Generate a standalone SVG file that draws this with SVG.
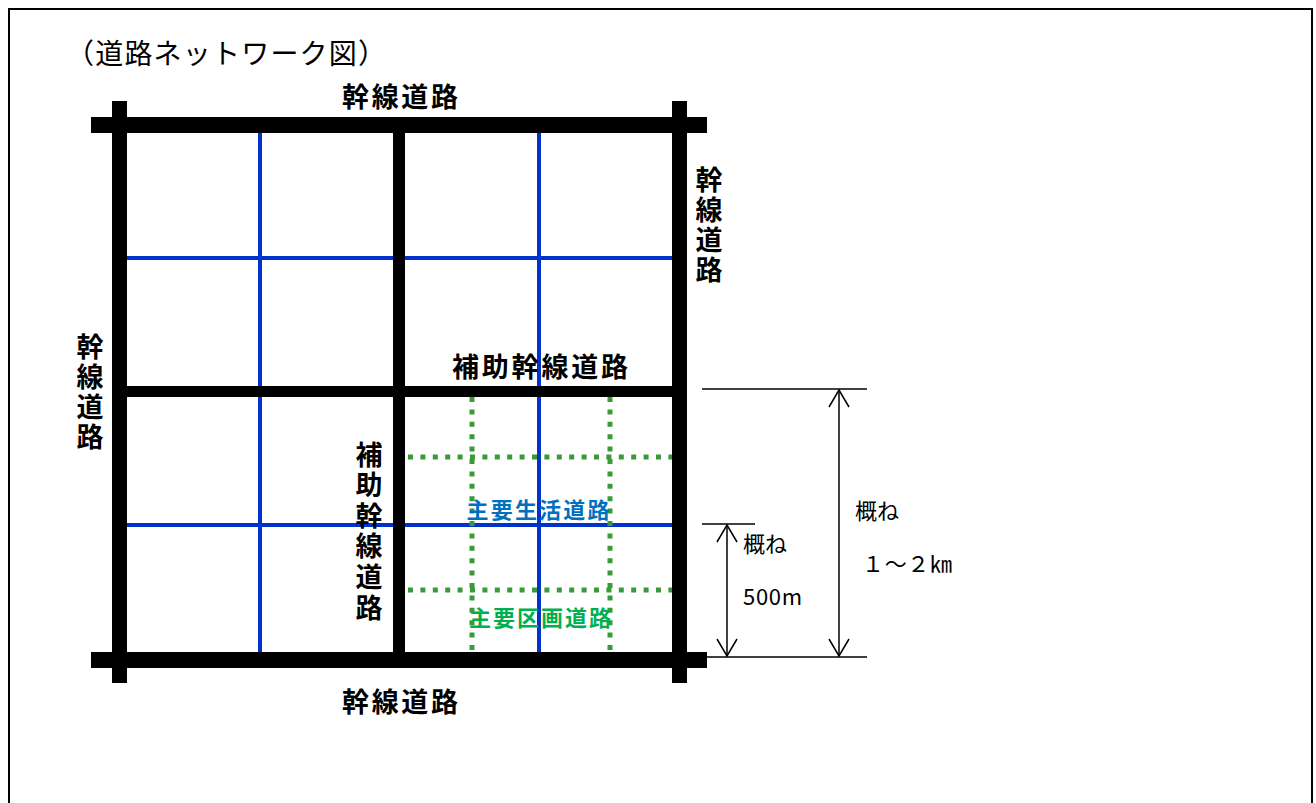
<svg xmlns="http://www.w3.org/2000/svg" width="1316" height="803" viewBox="0 0 1316 803">
<defs>
<style>
.t{font-family:"Noto Sans CJK JP","Noto Sans",sans-serif;fill:#000}
.b{font-weight:bold;font-size:27px}
.n{font-size:22px}
.c{text-anchor:middle;dominant-baseline:central}
.road{fill:#000}
.blue{stroke:#0033CC;stroke-width:4;fill:none}
.green{stroke:#3A9A3A;stroke-width:5;stroke-dasharray:5 7.4;fill:none}
.dim{stroke:#000;stroke-width:1.5;fill:none}
.arr{stroke:#000;stroke-width:1.5;fill:none;marker-start:url(#ah);marker-end:url(#ah)}
</style>
<marker id="ah" viewBox="-19 -11 21 22" refX="0" refY="0" markerWidth="21" markerHeight="22" markerUnits="userSpaceOnUse" orient="auto-start-reverse">
<path d="M-17,-10 L0,0 L-17,10" fill="none" stroke="#000" stroke-width="1.5"/>
</marker>
</defs>
<rect x="0" y="0" width="1316" height="803" fill="#fff"/>
<rect id="frame" x="9" y="9" width="1303" height="900" fill="none" stroke="#000" stroke-width="2"/>
<text id="title" class="t" x="66" y="64" font-size="28" textLength="320" lengthAdjust="spacing">（道路ネットワーク図）</text>

<g id="connectors">
  <g id="minor-blue">
    <line class="blue" x1="260" y1="133" x2="260" y2="652"/>
    <line class="blue" x1="539" y1="133" x2="539" y2="652"/>
    <line class="blue" x1="127" y1="258" x2="672" y2="258"/>
    <line class="blue" x1="127" y1="525" x2="672" y2="525"/>
  </g>
  <g id="minor-green">
    <line class="green" x1="472" y1="397" x2="472" y2="652"/>
    <line class="green" x1="610" y1="397" x2="610" y2="652"/>
    <line class="green" x1="408" y1="457" x2="672" y2="457"/>
    <line class="green" x1="408" y1="590" x2="672" y2="590"/>
  </g>
  <g id="roads">
    <rect class="road" x="91" y="117" width="616" height="16"/>
    <rect class="road" x="91" y="652" width="616" height="16"/>
    <rect class="road" x="112" y="101" width="15" height="582"/>
    <rect class="road" x="672" y="101" width="15" height="582"/>
    <rect class="road" x="393" y="133" width="12" height="519"/>
    <rect class="road" x="127" y="386" width="545" height="11"/>
  </g>
  <g id="dimensions">
    <line class="dim" x1="702" y1="389" x2="867" y2="389"/>
    <line class="dim" x1="707" y1="657" x2="867" y2="657"/>
    <line class="dim" x1="702" y1="524" x2="755" y2="524"/>
    <line class="arr" x1="839" y1="390" x2="839" y2="656"/>
    <line class="arr" x1="727" y1="525" x2="727" y2="656"/>
  </g>
</g>

<g id="label-top"><text class="t b c" x="400" y="95" textLength="116">幹線道路</text></g>
<g id="label-bottom"><text class="t b c" x="400" y="700" textLength="116">幹線道路</text></g>
<g id="label-right"><text class="t b c">
<tspan x="709" y="178">幹</tspan><tspan x="709" y="208">線</tspan><tspan x="709" y="238">道</tspan><tspan x="709" y="268">路</tspan></text></g>
<g id="label-left"><text class="t b c">
<tspan x="90" y="345">幹</tspan><tspan x="90" y="375">線</tspan><tspan x="90" y="405">道</tspan><tspan x="90" y="435">路</tspan></text></g>
<g id="label-aux-h"><text class="t b c" x="540" y="365" textLength="176">補助幹線道路</text></g>
<g id="label-aux-v"><text class="t b c">
<tspan x="369" y="453">補</tspan><tspan x="369" y="483">助</tspan><tspan x="369" y="514">幹</tspan><tspan x="369" y="544">線</tspan><tspan x="369" y="575">道</tspan><tspan x="369" y="606">路</tspan></text></g>
<g id="label-seikatsu"><text class="t c" x="538" y="508" font-size="22" font-weight="bold" style="fill:#0070C0" textLength="143">主要生活道路</text></g>
<g id="label-kukaku"><text class="t c" x="540" y="616" font-size="22" font-weight="bold" style="fill:#00B050" textLength="142">主要区画道路</text></g>

<g id="dim-labels">
  <text class="t n" x="855" y="519">概ね</text>
  <text class="t n" x="862" y="572" font-size="20" textLength="90">１～２㎞</text>
  <text class="t n" x="743" y="552">概ね</text>
  <text class="t n" x="743" y="605" font-size="22" textLength="59">500m</text>
</g>
</svg>
